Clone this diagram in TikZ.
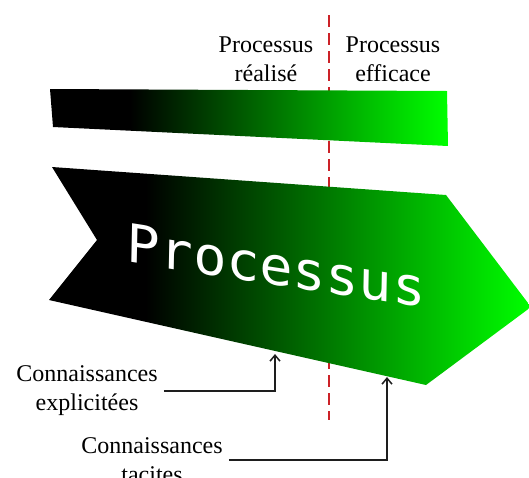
\documentclass[tikz,border=0pt]{standalone}
\usepackage{fontspec}
\setmainfont{Liberation Serif}
\newfontfamily\bigmono{DejaVu Sans Mono}
\usetikzlibrary{arrows.meta}
\pgfdeclarehorizontalshading{blackgreen}{100bp}{color(0bp)=(black); color(35bp)=(black); color(75bp)=(green); color(100bp)=(green)}
\definecolor{dashred}{RGB}{204,34,40}
\definecolor{linegray}{RGB}{30,30,30}
\tikzset{
  band/.style={shading=blackgreen, draw=none},
  lbl/.style={align=center, font=\fontsize{24}{29}\selectfont, text=black, inner sep=2pt},
  pointer/.style={draw=linegray, line width=1.5pt, -{Straight Barb[length=6pt,width=10pt,line width=1.5pt]}},
  divider/.style={draw=dashred, line width=2pt, dash pattern=on 12pt off 6pt}
}
\begin{document}
\begin{tikzpicture}[x=1pt,y=-1pt]
\useasboundingbox (0,0) rectangle (529,477);
% divider
\coordinate (dtop) at (329,15);
\coordinate (dbot) at (329,420);
\draw[divider] (dtop) -- (dbot);
% top bar
\shade[band] (50,89) -- (447,91) -- (448,146) -- (53,127) -- cycle;
% big arrow
\shade[band] (52,167) -- (446,195) -- (531,307) -- (426,385) -- (49,300) -- (97,240) -- cycle;
\node[cm={1.04,-0.161,0.02,1,(0pt,0pt)}, anchor=base, text=white, font=\bigmono\fontsize{53}{53}\selectfont, inner sep=0pt] (proc) at (276,285) {Processus};
% top labels
\node[lbl] (realise) at (266,59) {Processus\\réalisé};
\node[lbl] (efficace) at (393,59) {Processus\\efficace};
% bottom labels
\node[lbl] (expl) at (87,391) {Connaissances\\explicitées};
\node[lbl] (tac) at (152,460) {Connaissances\\tacites};
\coordinate (t1) at (275,354);
\coordinate (t2) at (387,377);
\draw[pointer] ([xshift=4pt]expl.east) -| (t1);
\draw[pointer] ([xshift=4pt]tac.east) -| (t2);
\end{tikzpicture}
\end{document}
